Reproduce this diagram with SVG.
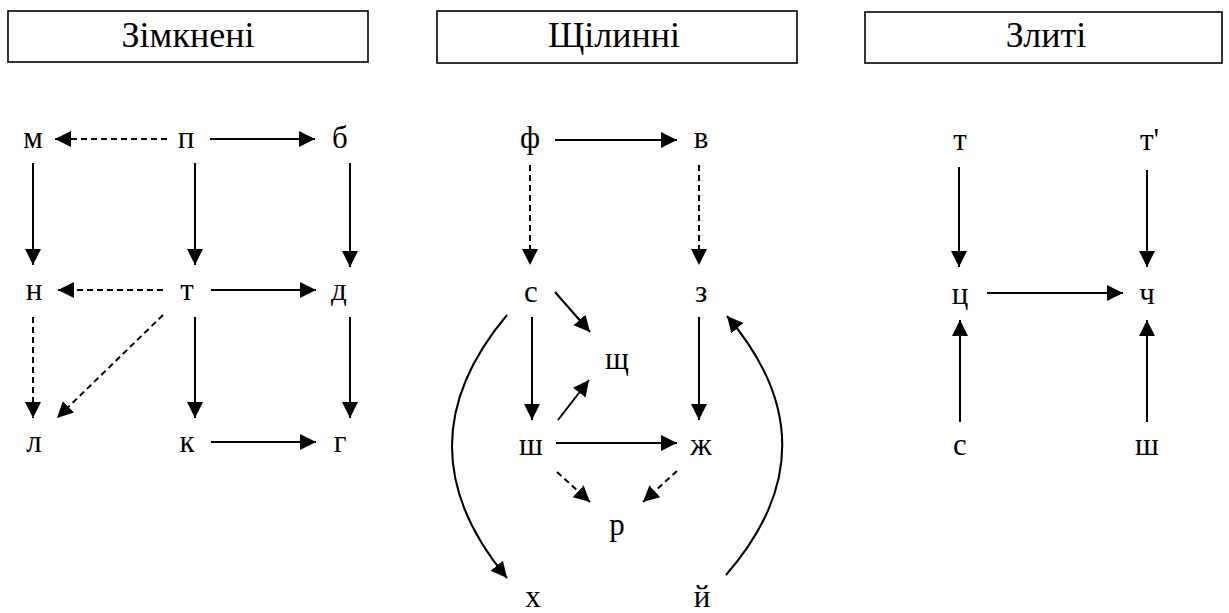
<svg xmlns="http://www.w3.org/2000/svg" width="1229" height="613" viewBox="0 0 1229 613">
<style>
.hdr{fill:#fff;stroke:#000;stroke-width:1.6}
.ht{font-family:"Liberation Serif",serif;font-size:36px;fill:#000;text-anchor:middle}
.n{font-family:"Liberation Serif",serif;font-size:31px;fill:#000;text-anchor:middle}
.s{fill:none;stroke:#000;stroke-width:2;marker-end:url(#ah)}
.d{fill:none;stroke:#000;stroke-width:2;stroke-dasharray:6 4;marker-end:url(#ah)}
</style>
<defs>
<marker id="ah" markerUnits="userSpaceOnUse" markerWidth="18" markerHeight="18" refX="16" refY="8" orient="auto">
<path d="M0,0 L16,8 L0,16 z" fill="#000"/>
</marker>
</defs>
<rect width="1229" height="613" fill="#fff"/>
<g id="hdr-zimkneni"><rect class="hdr" x="8" y="11" width="360" height="51"/><text class="ht" x="188" y="47">Зімкнені</text></g>
<g id="hdr-shchilynni"><rect class="hdr" x="437" y="11" width="360" height="52"/><text class="ht" x="614" y="47">Щілинні</text></g>
<g id="hdr-zlyti"><rect class="hdr" x="865" y="12" width="357" height="51"/><text class="ht" x="1046" y="47">Злиті</text></g>

<g id="n-m"><text class="n" x="33" y="148">м</text></g>
<g id="n-p"><text class="n" x="186" y="148">п</text></g>
<g id="n-b"><text class="n" x="340" y="148">б</text></g>
<g id="n-n"><text class="n" x="34" y="300">н</text></g>
<g id="n-t"><text class="n" x="187" y="300">т</text></g>
<g id="n-d"><text class="n" x="339" y="300">д</text></g>
<g id="n-l"><text class="n" x="34" y="452">л</text></g>
<g id="n-k"><text class="n" x="187" y="452">к</text></g>
<g id="n-g"><text class="n" x="340" y="452">г</text></g>

<g id="n-f"><text class="n" x="530" y="148">ф</text></g>
<g id="n-v"><text class="n" x="701" y="148">в</text></g>
<g id="n-s"><text class="n" x="531" y="302">с</text></g>
<g id="n-z"><text class="n" x="701" y="302">з</text></g>
<g id="n-shch"><text class="n" x="617" y="369">щ</text></g>
<g id="n-sh"><text class="n" x="531" y="455">ш</text></g>
<g id="n-zh"><text class="n" x="701" y="455">ж</text></g>
<g id="n-r"><text class="n" x="617" y="535">р</text></g>
<g id="n-kh"><text class="n" x="533" y="607">х</text></g>
<g id="n-y"><text class="n" x="702" y="607">й</text></g>

<g id="n-t2"><text class="n" x="960" y="150">т</text></g>
<g id="n-t3"><text class="n" x="1140" y="150" style="text-anchor:start">т'</text></g>
<g id="n-ts"><text class="n" x="960" y="304">ц</text></g>
<g id="n-ch"><text class="n" x="1147" y="304">ч</text></g>
<g id="n-s2"><text class="n" x="960" y="455">с</text></g>
<g id="n-sh2"><text class="n" x="1147" y="455">ш</text></g>

<g id="connectors">
<line class="d" x1="167" y1="139" x2="55" y2="139"/>
<line class="s" x1="210" y1="139" x2="315" y2="139"/>
<line class="s" x1="33" y1="163" x2="33" y2="265"/>
<line class="s" x1="195" y1="163" x2="195" y2="265"/>
<line class="s" x1="350" y1="163" x2="350" y2="267"/>
<line class="d" x1="163" y1="290" x2="58" y2="290"/>
<line class="s" x1="211" y1="290" x2="316" y2="290"/>
<line class="d" x1="33" y1="317" x2="33" y2="418"/>
<line class="d" x1="163" y1="315" x2="57" y2="418"/>
<line class="s" x1="195" y1="317" x2="195" y2="418"/>
<line class="s" x1="350" y1="317" x2="350" y2="418"/>
<line class="s" x1="211" y1="442" x2="316" y2="442"/>

<line class="s" x1="555" y1="140" x2="677" y2="140"/>
<line class="d" x1="530" y1="165" x2="530" y2="265"/>
<line class="d" x1="699" y1="165" x2="699" y2="265"/>
<line class="s" x1="555" y1="292" x2="590" y2="332"/>
<line class="s" x1="532" y1="317" x2="532" y2="420"/>
<line class="s" x1="558" y1="420" x2="589" y2="380"/>
<line class="s" x1="699" y1="317" x2="699" y2="420"/>
<line class="s" x1="556" y1="443" x2="677" y2="443"/>
<line class="d" x1="557" y1="472" x2="590" y2="502"/>
<line class="d" x1="677" y1="471" x2="643" y2="502"/>
<path class="s" d="M507,315 Q397,446 507,578"/>
<path class="s" d="M726,575 Q838,446 727,316"/>

<line class="s" x1="959" y1="167" x2="959" y2="267"/>
<line class="s" x1="1147" y1="170" x2="1147" y2="267"/>
<line class="s" x1="987" y1="293" x2="1123" y2="293"/>
<line class="s" x1="960" y1="422" x2="960" y2="320"/>
<line class="s" x1="1147" y1="422" x2="1147" y2="320"/>
</g>
</svg>
